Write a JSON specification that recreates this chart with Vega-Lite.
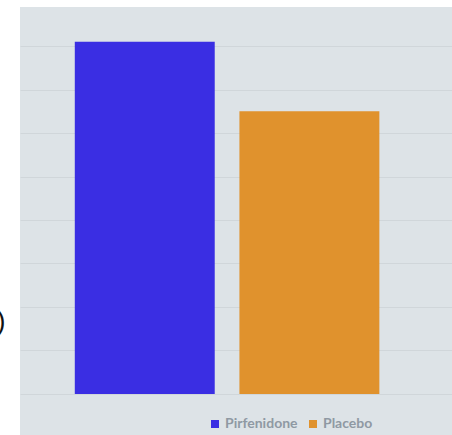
{
  "$schema": "https://vega.github.io/schema/vega-lite/v6.json",
  "width": 432,
  "height": 428,
  "autosize": {"type": "none"},
  "padding": {"left": 20, "top": 7, "right": 0, "bottom": 0},
  "background": "#ffffff",
  "config": {"view": {"fill": "#dde3e7", "stroke": null}},
  "data": {
    "values": [
      {"group": "Pirfenidone", "value": 81},
      {"group": "Placebo", "value": 65}
    ]
  },
  "mark": {"type": "bar"},
  "encoding": {
    "x": {
      "field": "group",
      "type": "nominal",
      "sort": null,
      "axis": null,
      "scale": {"paddingInner": 0.15, "paddingOuter": 0.387, "align": 0.43}
    },
    "y": {
      "field": "value",
      "type": "quantitative",
      "scale": {"domain": [-9.43, 88.97], "nice": false, "zero": false},
      "axis": {
        "values": [0, 10, 20, 30, 40, 50, 60, 70, 80],
        "labels": false,
        "ticks": false,
        "domain": false,
        "grid": true,
        "gridColor": "#d0d6da",
        "gridWidth": 1,
        "title": "Patients (%)",
        "titleAngle": 0,
        "titleAlign": "right",
        "titleBaseline": "middle",
        "titleX": -15,
        "titleY": 314,
        "titleFontSize": 27,
        "titleFont": "Liberation Sans",
        "titleFontWeight": "normal",
        "titleColor": "#111111"
      }
    },
    "color": {
      "field": "group",
      "type": "nominal",
      "scale": {"domain": ["Pirfenidone", "Placebo"], "range": ["#3a2ee3", "#e0922d"]},
      "legend": {
        "orient": "none",
        "direction": "horizontal",
        "legendX": 188,
        "legendY": 410,
        "symbolType": "square",
        "symbolSize": 64,
        "symbolStrokeWidth": 0,
        "labelFont": "Lato",
        "labelFontSize": 14,
        "labelFontWeight": "bold",
        "labelColor": "#8f99a3",
        "columnPadding": 8,
        "labelOffset": 3,
        "title": null
      }
    }
  }
}
